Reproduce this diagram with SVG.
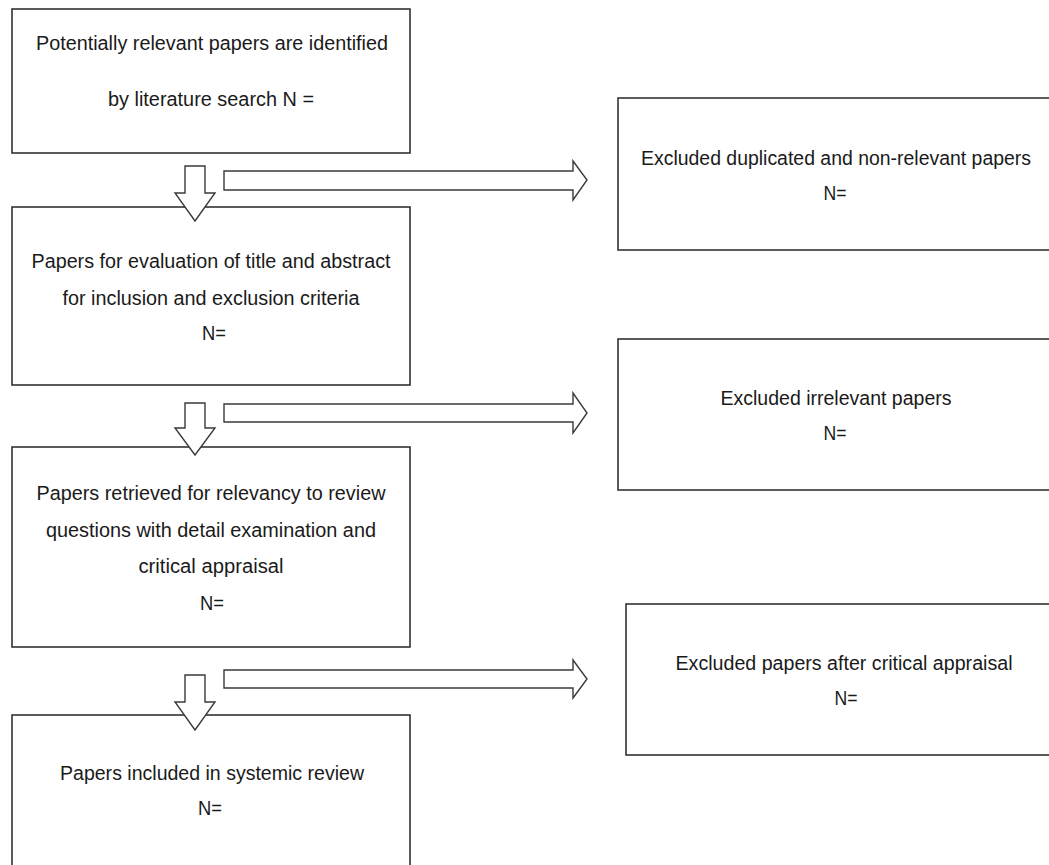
<svg xmlns="http://www.w3.org/2000/svg" width="1049" height="865" viewBox="0 0 1049 865">
<style>
.box{fill:#fff;stroke:#333;stroke-width:1.6}
.arr{fill:#fff;stroke:#3a3a3a;stroke-width:1.4;stroke-linejoin:miter}
text{font-family:"Liberation Sans",Arial,sans-serif;font-size:20px;fill:#1a1a1a;text-anchor:middle}
</style>
<rect width="1049" height="865" fill="#fff"/>
<g id="connectors">
<path class="arr" d="M224,171 H573 V161 L587,180 L573,200 V190 H224 Z"/>
<path class="arr" d="M224,404 H573 V393 L587,413 L573,433 V422 H224 Z"/>
<path class="arr" d="M224,670 H573 V660 L587,679 L573,698 V688 H224 Z"/>
</g>
<g id="n1">
<rect class="box" x="12" y="9" width="398" height="144"/>
<text x="212" y="50" textLength="352" lengthAdjust="spacingAndGlyphs">Potentially relevant papers are identified</text>
<text x="211" y="106" textLength="206" lengthAdjust="spacingAndGlyphs">by literature search N =</text>
</g>
<g id="n2">
<rect class="box" x="12" y="207" width="398" height="178"/>
<text x="211" y="268" textLength="359" lengthAdjust="spacingAndGlyphs">Papers for evaluation of title and abstract</text>
<text x="211" y="305" textLength="297" lengthAdjust="spacingAndGlyphs">for inclusion and exclusion criteria</text>
<text x="214" y="340" textLength="24" lengthAdjust="spacingAndGlyphs">N=</text>
</g>
<g id="n3">
<rect class="box" x="12" y="447" width="398" height="200"/>
<text x="211" y="500" textLength="349" lengthAdjust="spacingAndGlyphs">Papers retrieved for relevancy to review</text>
<text x="211" y="537" textLength="330" lengthAdjust="spacingAndGlyphs">questions with detail examination and</text>
<text x="211" y="573" textLength="145" lengthAdjust="spacingAndGlyphs">critical appraisal</text>
<text x="212" y="610" textLength="24" lengthAdjust="spacingAndGlyphs">N=</text>
</g>
<g id="n4">
<rect class="box" x="12" y="715" width="398" height="170"/>
<text x="212" y="780" textLength="304" lengthAdjust="spacingAndGlyphs">Papers included in systemic review</text>
<text x="210" y="815" textLength="24" lengthAdjust="spacingAndGlyphs">N=</text>
</g>
<g id="e1">
<rect class="box" x="618" y="98" width="450" height="152"/>
<text x="836" y="165" textLength="390" lengthAdjust="spacingAndGlyphs">Excluded duplicated and non-relevant papers</text>
<text x="835" y="200" textLength="23" lengthAdjust="spacingAndGlyphs">N=</text>
</g>
<g id="e2">
<rect class="box" x="618" y="339" width="450" height="151"/>
<text x="836" y="405" textLength="231" lengthAdjust="spacingAndGlyphs">Excluded irrelevant papers</text>
<text x="835" y="440" textLength="23" lengthAdjust="spacingAndGlyphs">N=</text>
</g>
<g id="e3">
<rect class="box" x="626" y="604" width="450" height="151"/>
<text x="844" y="670" textLength="337" lengthAdjust="spacingAndGlyphs">Excluded papers after critical appraisal</text>
<text x="846" y="705" textLength="23" lengthAdjust="spacingAndGlyphs">N=</text>
</g>
<g id="connectors-down">
<path class="arr" d="M185,166 H205 V193 H215 L195,221 L175,193 H185 Z"/>
<path class="arr" d="M185,403 H205 V428 H215 L195,455 L175,428 H185 Z"/>
<path class="arr" d="M185,675 H205 V702 H215 L195,730 L175,702 H185 Z"/>
</g>
</svg>
